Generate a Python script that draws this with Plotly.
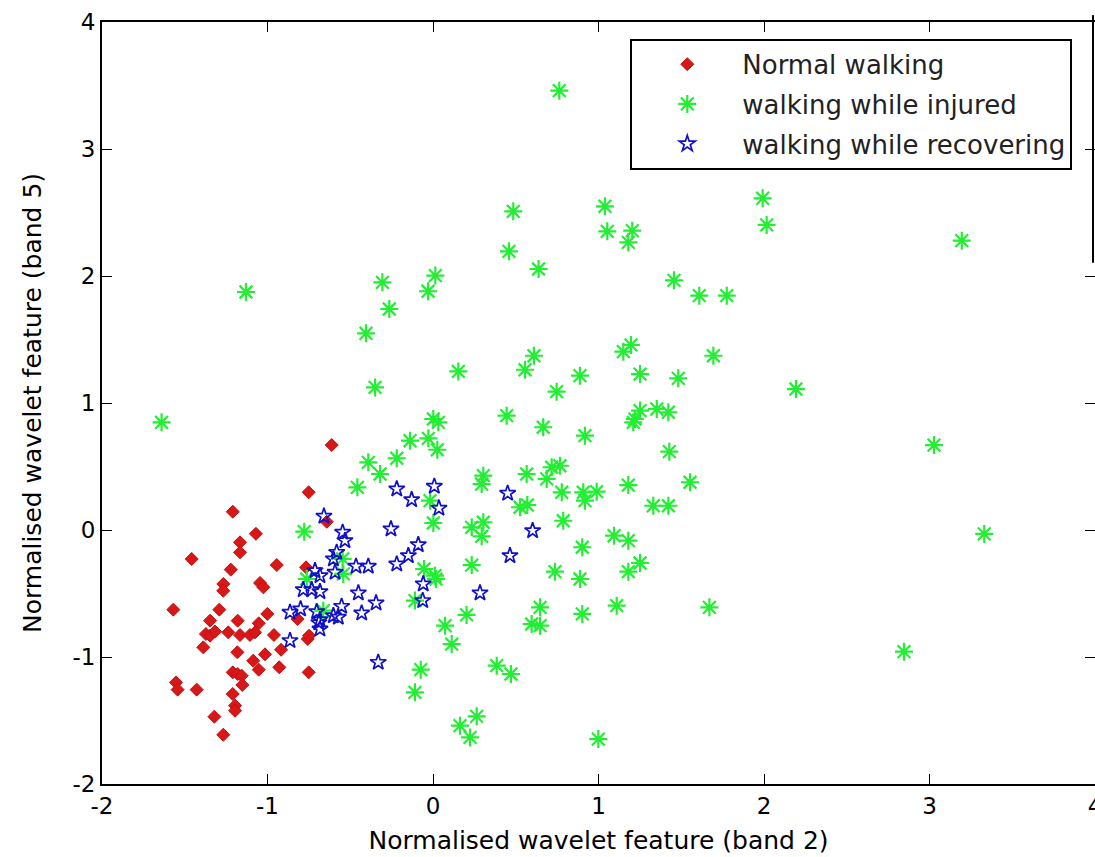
import plotly.graph_objects as go

# ---------------- data ----------------
normal_x = [-0.612, -0.751, -0.642, -1.210, -1.070, -1.166, -1.166, -1.458, -0.944, -1.222,
            -0.767, -1.267, -1.267, -1.045, -1.025, -1.569, -1.291, -1.001, -1.347, -1.180,
            -1.053, -0.818, -1.372, -1.347, -1.317, -1.237, -1.166, -1.106, -0.961, -1.388,
            -1.182, -1.015, -0.918, -0.757, -0.749, -1.086, -1.053, -0.929, -0.751, -1.210,
            -1.180, -1.156, -1.152, -1.553, -1.543, -1.428, -1.210, -1.196, -1.196, -1.321,
            -1.267, -1.075]
normal_y = [0.669, 0.297, 0.065, 0.144, -0.030, -0.097, -0.176, -0.228, -0.276, -0.312,
            -0.294, -0.425, -0.478, -0.417, -0.451, -0.627, -0.627, -0.661, -0.714, -0.714,
            -0.735, -0.701, -0.819, -0.832, -0.800, -0.806, -0.827, -0.827, -0.827, -0.924,
            -0.963, -0.979, -0.943, -0.858, -0.832, -1.029, -1.100, -1.081, -1.121, -1.121,
            -1.134, -1.147, -1.220, -1.200, -1.257, -1.257, -1.291, -1.383, -1.423, -1.470,
            -1.612, -0.806]

injured_x = [1.992, 2.016, 3.195, 2.193, 3.027, 3.331, 2.846,
             0.763, 0.485, 1.039, 1.053, 1.204, 1.180, 0.459, 0.638, -0.306, 0.014, -0.030,
             -0.264, -0.405, 1.456, 1.609, 1.775, 0.153, 0.610, 0.556, 1.150, 1.196, 1.694,
             -0.350, 0.888, 1.251, 1.482, 0.747,
             0.002, 0.032, 0.445, 0.666, 0.918, 1.251, 1.352, 1.422, 1.210, 1.220, 1.428,
             1.553, 1.180, 1.331, 1.422, -0.139, -0.028, 0.026, -0.219, -0.391, -0.320,
             -0.457, 0.304, 0.294, 0.566, 0.717, 0.767, 0.687, 0.526, 0.570, 0.778, 0.908,
             0.989, 0.918, -0.018, 0.002, 0.234, 0.304, 0.294, 0.787, 1.094, 1.180, 0.902,
             0.234, -0.054, 0.012, 0.018, -0.542, 0.737, 0.888, 1.180, 1.251, -0.109, 0.647,
             0.596, 0.647, 0.902, 1.110, 1.670, 0.203, 0.073, 0.113, 0.385, 0.471, -0.074,
             -0.109, 0.264, 0.163, 0.224, 0.999,
             -1.640, -1.130, -0.778, -0.546, -0.763, -0.663]
injured_y = [2.612, 2.402, 2.278, 1.110, 0.669, -0.031, -0.958,
             3.459, 2.509, 2.549, 2.352, 2.357, 2.265, 2.194, 2.055, 1.950, 2.003, 1.880,
             1.740, 1.549, 1.966, 1.845, 1.845, 1.249, 1.372, 1.262, 1.404, 1.457, 1.372,
             1.123, 1.215, 1.228, 1.194, 1.089,
             0.874, 0.848, 0.900, 0.809, 0.743, 0.940, 0.953, 0.927, 0.848, 0.874, 0.617,
             0.376, 0.354, 0.191, 0.191, 0.703, 0.722, 0.632, 0.565, 0.533, 0.441,
             0.336, 0.428, 0.362, 0.441, 0.494, 0.506, 0.402, 0.179, 0.197, 0.297, 0.297,
             0.302, 0.231, 0.231, 0.055, 0.021, 0.061, -0.050, 0.073, -0.045, -0.084, -0.136,
             -0.276, -0.307, -0.360, -0.386, -0.346, -0.328, -0.386, -0.328, -0.260, -0.556, -0.609,
             -0.740, -0.753, -0.661, -0.596, -0.609, -0.669, -0.753, -0.898, -1.068, -1.134, -1.100,
             -1.278, -1.467, -1.541, -1.633, -1.646,
             0.848, 1.874, -0.013, -0.228, -0.386, -0.635]

recovering_x = [-0.659, -0.219, -0.129, 0.008, 0.036, 0.451, 0.602, -0.254, -0.546, -0.532,
                -0.089, -0.582, -0.602, -0.149, 0.465, -0.219, -0.465, -0.391, -0.592, -0.713,
                -0.683, -0.059, -0.784, -0.733, -0.683, -0.451, 0.284, -0.062, -0.344, -0.864,
                -0.800, -0.703, -0.552, -0.572, -0.431, -0.683, -0.683, -0.602, -0.864, -0.331,
                -0.690]
recovering_y = [0.108, 0.323, 0.239, 0.344, 0.171, 0.289, -0.005, 0.008, -0.018, -0.084,
                -0.116, -0.176, -0.228, -0.202, -0.202, -0.268, -0.286, -0.286, -0.333, -0.320,
                -0.360, -0.425, -0.470, -0.470, -0.486, -0.496, -0.496, -0.556, -0.575, -0.648,
                -0.622, -0.643, -0.601, -0.687, -0.654, -0.706, -0.780, -0.675, -0.871, -1.042,
                -0.730]

series_names = ["Normal walking", "walking while injured", "walking while recovering"]
tick_vals_x = [-2, -1, 0, 1, 2, 3, 4]
tick_text_x = ["-2", "-1", "0", "1", "2", "3", "4"]
tick_vals_y = [-2, -1, 0, 1, 2, 3, 4]
tick_text_y = ["-2", "-1", "0", "1", "2", "3", "4"]
x_title = "Normalised wavelet feature (band 2)"
y_title = "Normalised wavelet feature (band 5)"

FONT = "DejaVu Sans, Liberation Sans, sans-serif"

fig = go.Figure()
fig.add_trace(go.Scatter(
    x=normal_x, y=normal_y, mode="markers", name=series_names[0],
    legendgroup="a",
    marker=dict(symbol="diamond", size=10, color="#d81818",
                line=dict(color="#c41010", width=1))))
fig.add_trace(go.Scatter(
    x=injured_x, y=injured_y, mode="markers", name=series_names[1],
    legendgroup="b",
    marker=dict(symbol="asterisk-open", size=15, color="#22ee33",
                line=dict(color="#22ee33", width=2.2))))
fig.add_trace(go.Scatter(
    x=recovering_x, y=recovering_y, mode="markers", name=series_names[2],
    legendgroup="c",
    marker=dict(symbol="star-open", size=12, color="#1010c8",
                line=dict(color="#1010c8", width=1.7))))
# empty helper trace so the right-hand (mirror) tick axis is drawn
fig.add_trace(go.Scatter(x=[], y=[], yaxis="y2", showlegend=False, hoverinfo="skip"))

axis_common = dict(
    showgrid=False, zeroline=False, showline=True, linecolor="black", linewidth=2,
    ticks="inside", ticklen=10, tickwidth=1.2, tickcolor="black",
    tickfont=dict(family=FONT, size=23, color="black"),
    ticklabeloverflow="allow",
)

fig.update_layout(
    width=1095, height=857,
    margin=dict(l=102, r=0, t=22, b=73, autoexpand=False),
    paper_bgcolor="white", plot_bgcolor="white",
    font=dict(family=FONT, color="black"),
    xaxis=dict(range=[-2, 4], tickmode="array", tickvals=tick_vals_x, ticktext=tick_text_x,
               mirror="ticks", automargin=False,
               title=dict(text=x_title, font=dict(family=FONT, size=25), standoff=14),
               **axis_common),
    yaxis=dict(range=[-2, 4], tickmode="array", tickvals=tick_vals_y, ticktext=tick_text_y,
               automargin=False,
               title=dict(text=y_title, font=dict(family=FONT, size=25), standoff=24),
               **axis_common),
    yaxis2=dict(range=[-2, 4], tickmode="array", tickvals=tick_vals_y, overlaying="y",
                side="right", showgrid=False, zeroline=False, showline=False,
                ticks="inside", ticklen=10, tickwidth=1.2, tickcolor="black",
                showticklabels=False, automargin=False),
    showlegend=True,
    legend=dict(
        x=0.532, y=0.978, xanchor="left", yanchor="top",
        bgcolor="white", bordercolor="black", borderwidth=2,
        font=dict(family=FONT, size=26, color="#222222"),
        tracegroupgap=3, itemwidth=100,
    ),
)

# partial vertical border line visible at the right edge of the reference image
fig.add_shape(type="line", xref="paper", yref="paper",
              x0=0.998, x1=0.998, y0=1.009, y1=0.684,
              line=dict(color="black", width=2))

fig.write_html("out.html")
